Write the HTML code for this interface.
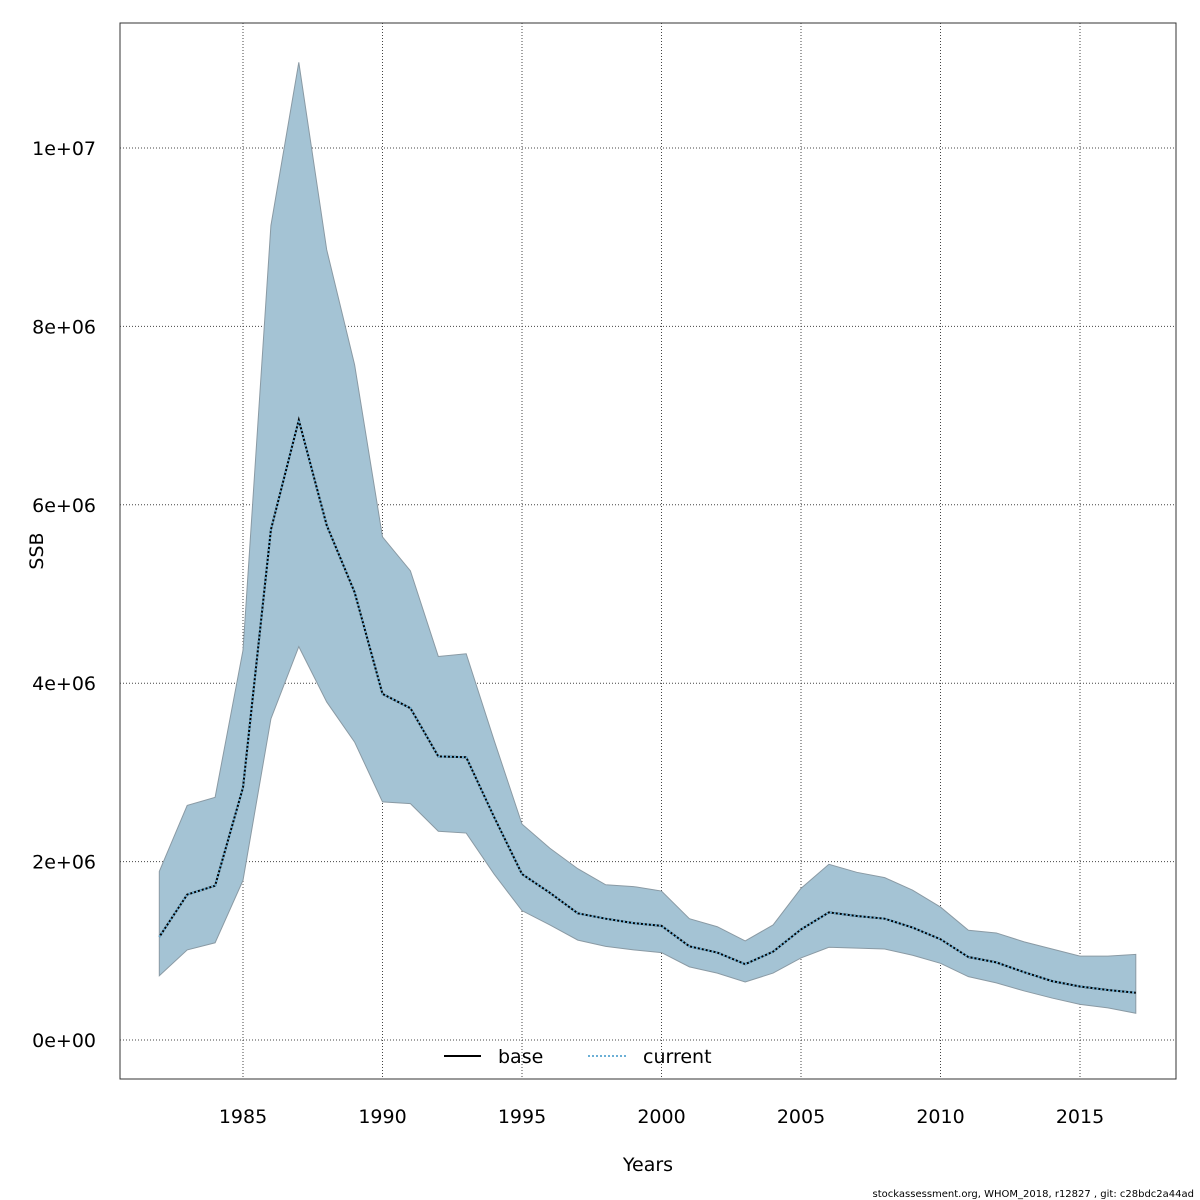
<!DOCTYPE html>
<html><head><meta charset="utf-8"><style>
html,body{margin:0;padding:0;background:#fff;}
svg{display:block;font-family:"DejaVu Sans","Liberation Sans",sans-serif;}
</style></head><body>
<svg id="chart" width="1200" height="1200" viewBox="0 0 1200 1200">
<rect x="120" y="23" width="1056" height="1056" fill="#fff" stroke="#333" stroke-width="1"/>
<g id="grid"></g>
<g id="band"></g>
<g id="lines"></g>
<g id="xaxis"></g>
<g id="yaxis"></g>
<text x="648" y="1171" font-size="19" text-anchor="middle">Years</text>
<text x="43" y="551" font-size="19" text-anchor="middle" transform="rotate(-90 43 551)">SSB</text>
<g>
<g>
<line x1="444" y1="1056" x2="481" y2="1056" stroke="#000" stroke-width="2"/>
<text x="498" y="1063" font-size="19">base</text></g>
<g>
<line x1="588" y1="1056" x2="626" y2="1056" stroke="#6cb0d6" stroke-width="2" stroke-dasharray="2,2"/>
<text x="643" y="1063" font-size="19">current</text></g>
</g>
<text x="1194" y="1197" font-size="10" text-anchor="end">stockassessment.org, WHOM_2018, r12827 , git: c28bdc2a44ad</text>
</svg>
<script>
const years=[1982,1983,1984,1985,1986,1987,1988,1989,1990,1991,1992,1993,1994,1995,1996,1997,1998,1999,2000,2001,2002,2003,2004,2005,2006,2007,2008,2009,2010,2011,2012,2013,2014,2015,2016,2017];
const ssb=[1.155,1.63,1.73,2.83,5.72,6.95,5.77,5.02,3.88,3.72,3.18,3.17,2.5,1.86,1.65,1.42,1.36,1.31,1.28,1.05,0.98,0.85,0.99,1.24,1.43,1.39,1.36,1.26,1.13,0.93,0.87,0.76,0.66,0.6,0.56,0.53].map(v=>v*1e6);
const upper=[1.89,2.63,2.72,4.37,9.13,10.96,8.86,7.57,5.64,5.26,4.30,4.33,3.36,2.42,2.15,1.92,1.74,1.72,1.67,1.36,1.27,1.11,1.29,1.70,1.97,1.88,1.82,1.68,1.49,1.23,1.20,1.10,1.02,0.94,0.94,0.96].map(v=>v*1e6);
const lower=[0.72,1.01,1.09,1.79,3.6,4.41,3.79,3.34,2.67,2.65,2.34,2.32,1.86,1.45,1.29,1.12,1.05,1.01,0.98,0.82,0.75,0.65,0.75,0.92,1.04,1.03,1.02,0.95,0.86,0.71,0.64,0.55,0.47,0.40,0.36,0.30].map(v=>v*1e6);
const xTicks=[1985,1990,1995,2000,2005,2010,2015];
const yTicks=[0,2e6,4e6,6e6,8e6,1e7];
const yLabels=["0e+00","2e+06","4e+06","6e+06","8e+06","1e+07"];
const NS="http://www.w3.org/2000/svg";
const x=v=>243+(v-1985)*27.9;
const y=v=>1040-v*89.2e-6;
function mk(tag,attrs,parent){const e=document.createElementNS(NS,tag);for(const k in attrs)e.setAttribute(k,attrs[k]);parent.appendChild(e);return e;}
const grid=document.getElementById('grid'),xa=document.getElementById('xaxis'),ya=document.getElementById('yaxis');
xTicks.forEach(t=>{
 const g=mk('line',{x1:x(t),x2:x(t),y1:23,y2:1079,stroke:'#444','stroke-width':1,'stroke-dasharray':'1,2'},grid);
 
 
 const tx=mk('text',{x:x(t),y:1123,'font-size':19,'text-anchor':'middle'},xa);
 tx.textContent=t;
 
 
});
yTicks.forEach((t,i)=>{
 const g=mk('line',{x1:120,x2:1176,y1:y(t),y2:y(t),stroke:'#444','stroke-width':1,'stroke-dasharray':'1,2'},grid);
 
 
 const tx=mk('text',{x:96,y:y(t)+7,'font-size':19,'text-anchor':'end'},ya);
 tx.textContent=yLabels[i];
 
 
});
let pts=years.map((yr,i)=>x(yr)+','+y(upper[i]));
for(let i=years.length-1;i>=0;i--)pts.push(x(years[i])+','+y(lower[i]));
const poly=mk('polygon',{points:pts.join(' '),fill:'#a4c3d4',stroke:'#8a9aa4','stroke-width':1},document.getElementById('band'));


const lp=years.map((yr,i)=>x(yr)+','+y(ssb[i])).join(' ');
const b=mk('polyline',{points:lp,fill:'none',stroke:'#000','stroke-width':2},document.getElementById('lines'));


const c=mk('polyline',{points:lp,fill:'none',stroke:'#6cb0d6','stroke-width':2,'stroke-dasharray':'2,2'},document.getElementById('lines'));


</script>
</body></html>
